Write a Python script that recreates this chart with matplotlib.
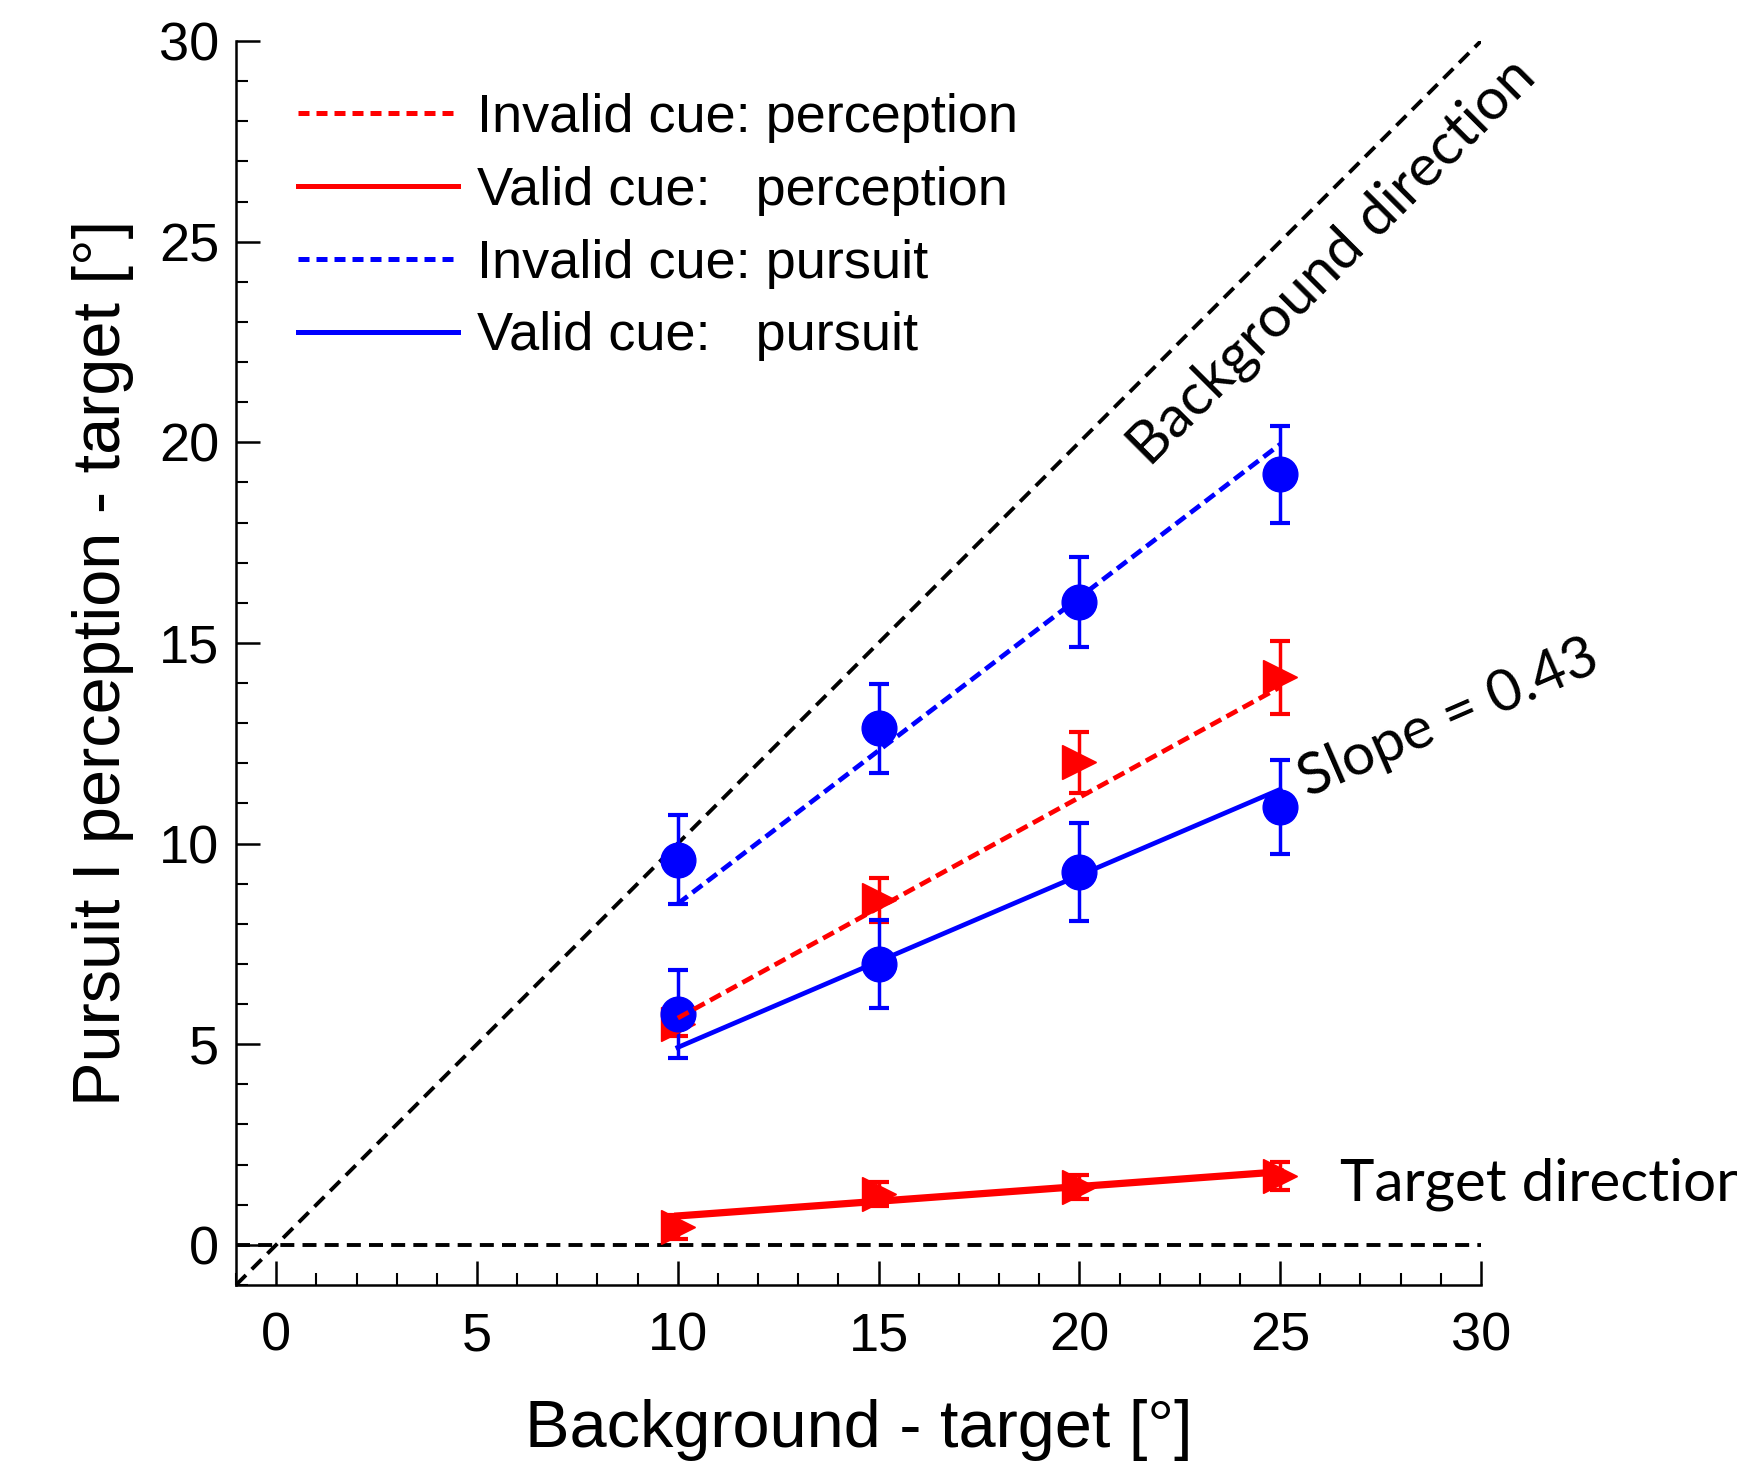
import matplotlib
matplotlib.use("Agg")
import matplotlib.pyplot as plt
from matplotlib.lines import Line2D
import numpy as np

# ---- data ----
x_vals = [10, 15, 20, 25]

inv_pursuit = [9.6, 12.87, 16.02, 19.2]
inv_pursuit_err = [1.1, 1.1, 1.13, 1.2]
inv_pursuit_fit = [8.5, 19.95]

val_pursuit = [5.75, 6.99, 9.28, 10.91]
val_pursuit_err = [1.1, 1.1, 1.22, 1.18]
val_pursuit_fit = [4.92, 11.35]

inv_percept = [5.5, 8.59, 12.02, 14.14]
inv_percept_err = [0.3, 0.55, 0.75, 0.9]
inv_percept_fit = [5.65, 13.9]

val_percept = [0.44, 1.27, 1.44, 1.71]
val_percept_err = [0.3, 0.3, 0.3, 0.35]
val_percept_fit = [0.72, 1.82]

fit_x = [10, 25]

legend_labels = ["Invalid cue: perception", "Valid cue:   perception",
                 "Invalid cue: pursuit", "Valid cue:   pursuit"]

ref_line = [-1, 30]
xticks = [0, 5, 10, 15, 20, 25, 30]
yticks = [0, 5, 10, 15, 20, 25, 30]

# ---- figure ----
plt.rcParams['font.family'] = ['Liberation Sans', 'DejaVu Sans']
fig = plt.figure(figsize=(17.37, 14.64), dpi=100)
ax = fig.add_axes([0.1359, 0.1223, 0.7167, 0.8497])

ax.set_xlim(-1, 30)
ax.set_ylim(-1, 30)

# reference lines
ax.plot(ref_line, ref_line, color='black', lw=2.8, ls=(0, (3.6, 2.1)), zorder=2)
ax.plot(ref_line, [0, 0], color='black', lw=2.8, ls=(0, (3.6, 2.1)), zorder=2)

RED = '#ff0000'
BLUE = '#0000ff'

# markers with error bars
ekw = dict(capsize=7, capthick=3, elinewidth=2.5, ls='none', zorder=3)
ax.errorbar(x_vals, inv_percept, yerr=inv_percept_err, fmt='>', color=RED,
            markersize=25, **ekw)
ax.errorbar(x_vals, val_percept, yerr=val_percept_err, fmt='>', color=RED,
            markersize=25, **ekw)
ax.errorbar(x_vals, inv_pursuit, yerr=inv_pursuit_err, fmt='o', color=BLUE,
            markersize=25, **ekw)
ax.errorbar(x_vals, val_pursuit, yerr=val_pursuit_err, fmt='o', color=BLUE,
            markersize=25, **ekw)

# fit lines
ax.plot(fit_x, inv_percept_fit, color=RED, lw=3.4, ls=(0, (2.6, 1.3)), zorder=4)
ax.plot(fit_x, val_percept_fit, color=RED, lw=5.2, ls='-', zorder=4)
ax.plot(fit_x, inv_pursuit_fit, color=BLUE, lw=3.4, ls=(0, (2.6, 1.3)), zorder=4)
ax.plot(fit_x, val_pursuit_fit, color=BLUE, lw=3.4, ls='-', zorder=4)

# legend
handles = [
    Line2D([], [], color=RED, lw=3.6, ls=(0, (2.2, 1.4))),
    Line2D([], [], color=RED, lw=3.6, ls='-'),
    Line2D([], [], color=BLUE, lw=3.6, ls=(0, (2.2, 1.4))),
    Line2D([], [], color=BLUE, lw=3.6, ls='-'),
]
leg = ax.legend(handles, legend_labels, loc='upper left',
                bbox_to_anchor=(0.05, 0.958), frameon=False,
                borderpad=0, borderaxespad=0, handlelength=2.95,
                handletextpad=0.35, labelspacing=0.42,
                prop={'family': ['Liberation Sans'], 'size': 39})

# annotations
ann_font = ['Lato', 'DejaVu Sans']
ax.text(26.3, 24.5, "Background direction", rotation=45, rotation_mode='anchor',
        ha='center', va='center', fontsize=42, family=ann_font, clip_on=False)
ax.text(29.2, 13.1, "Slope = 0.43", rotation=23.5, rotation_mode='anchor',
        ha='center', va='center', fontsize=42, family=ann_font, clip_on=False)
ax.text(26.5, 1.52, "Target direction", ha='left', va='center',
        fontsize=42, family=ann_font, clip_on=False)

# axes styling
for s in ['top', 'right']:
    ax.spines[s].set_visible(False)
for s in ['left', 'bottom']:
    ax.spines[s].set_linewidth(1.8)

ax.set_xticks(xticks)
ax.set_yticks(yticks)
ax.set_xticks(np.arange(-1, 31, 1), minor=True)
ax.set_yticks(np.arange(-1, 31, 1), minor=True)
ax.tick_params(axis='both', which='major', direction='in', length=17, width=1.8,
               labelsize=39)
ax.tick_params(axis='both', which='minor', direction='in', length=8.5, width=1.5)
ax.tick_params(axis='x', which='major', pad=19)
ax.tick_params(axis='y', which='major', pad=12)

ax.set_xlabel("Background - target [°]", fontsize=48, labelpad=27)
ax.set_ylabel("Pursuit I perception - target [°]", fontsize=48, labelpad=18)

fig.savefig("out.png", dpi=100)
